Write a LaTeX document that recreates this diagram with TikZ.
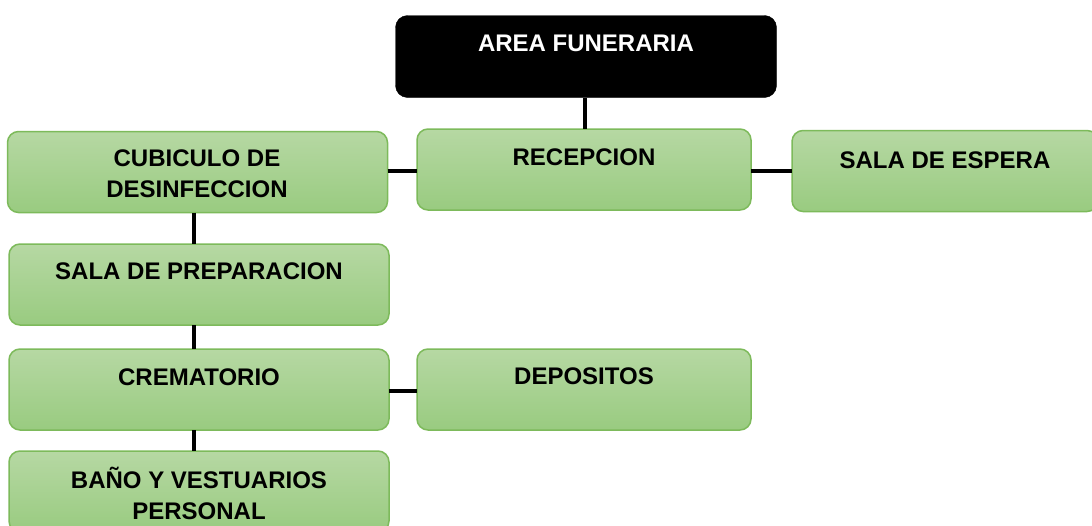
\documentclass[tikz,border=0pt]{standalone}
\usepackage{fontspec}
\setmainfont{Liberation Sans}
\definecolor{gtop}{RGB}{182,216,163}
\definecolor{gbot}{RGB}{153,203,128}
\definecolor{gborder}{RGB}{125,186,91}
\begin{document}
\begin{tikzpicture}[x=1pt,y=-1pt,
  gbox/.style={draw=gborder, line width=1.5pt, rounded corners=11pt,
    top color=gtop, bottom color=gbot, minimum width=#1, minimum height=81pt,
    inner sep=0pt, outer sep=0pt},
  bbox/.style={draw=black, fill=black, rounded corners=12pt,
    minimum width=381pt, minimum height=82pt, inner sep=0pt, outer sep=0pt},
  lbl/.style={font=\bfseries\fontsize{24}{31}\selectfont, align=center, inner sep=0pt},
  conn/.style={line width=3.3pt}]
\useasboundingbox (0,0) rectangle (1092,525);
\clip (0,0) rectangle (1092,525);
\node[bbox] (area) at (586,56.5) {};
\node[gbox=334pt] (rec) at (584,169.5) {};
\node[gbox=380pt] (cub) at (197.5,172) {};
\node[gbox=306pt] (esp) at (945,171) {};
\node[gbox=380pt] (prep) at (199,284.5) {};
\node[gbox=380pt] (crem) at (199,389.5) {};
\node[gbox=334pt] (dep) at (584,389.5) {};
\node[gbox=380pt] (bano) at (199,491.5) {};
\draw[conn] (area.south -| 585,0) -- (rec.north -| 585,0);
\draw[conn] (cub.east |- 0,171) -- (rec.west |- 0,171);
\draw[conn] (rec.east |- 0,171) -- (esp.west |- 0,171);
\draw[conn] (cub.south -| 194,0) -- (prep.north -| 194,0);
\draw[conn] (prep.south -| 194,0) -- (crem.north -| 194,0);
\draw[conn] (crem.east |- 0,391) -- (dep.west |- 0,391);
\draw[conn] (crem.south -| 194,0) -- (bano.north -| 194,0);
\node[lbl, text=white] (tarea) at (586,43) {AREA FUNERARIA};
\node[lbl] (trec) at (584,157) {RECEPCION};
\node[lbl] (tcub) at (197,173.5) {CUBICULO DE\\DESINFECCION};
\node[lbl] (tesp) at (945,160) {SALA DE ESPERA};
\node[lbl] (tprep) at (199,271) {SALA DE PREPARACION};
\node[lbl] (tcrem) at (199,377) {CREMATORIO};
\node[lbl] (tdep) at (584,376) {DEPOSITOS};
\node[lbl] (tbano) at (199,493.5) {BAÑO Y VESTUARIOS\\PERSONAL};
\end{tikzpicture}
\end{document}
